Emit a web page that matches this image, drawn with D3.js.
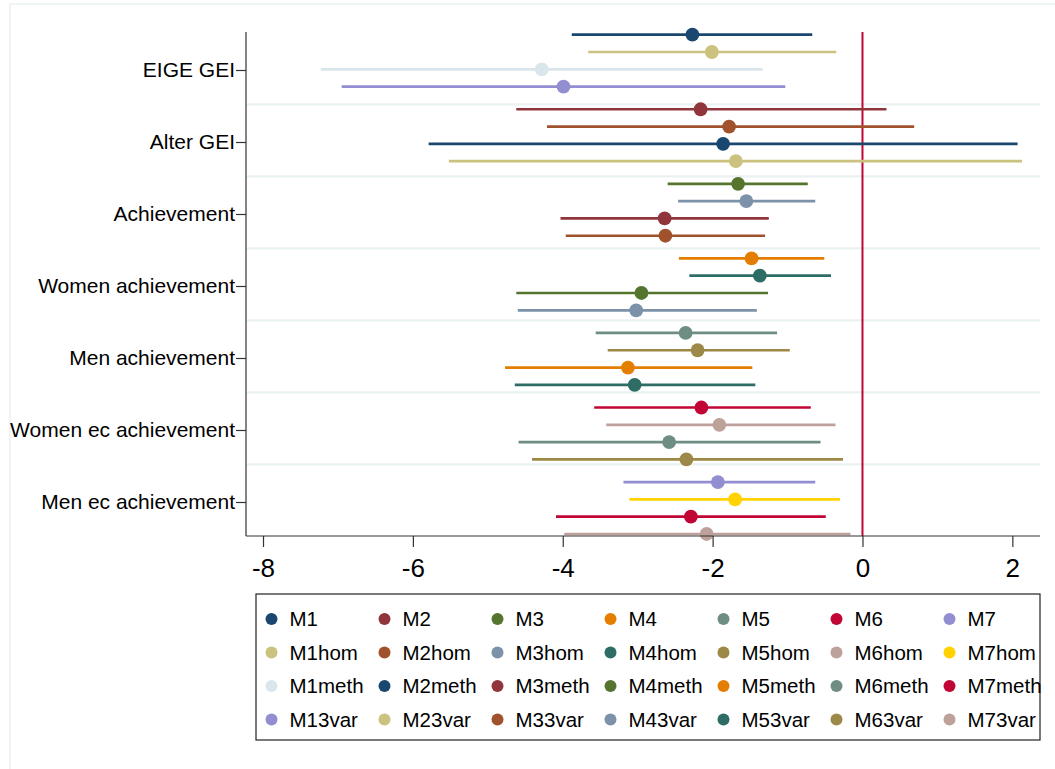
<!DOCTYPE html>
<html>
<head>
<meta charset="utf-8">
<script src="https://cdn.jsdelivr.net/npm/d3@7"></script>
<style>
  html, body { margin: 0; padding: 0; background: #fff; }
  svg { display: block; font-family: 'Liberation Sans', Arial, sans-serif; }
</style>
</head>
<body>
<div id="chart"></div>
<script>
// Coefficient plot: 7 outcomes x 4 model variants, 95% CIs

const groups = ['EIGE GEI', 'Alter GEI', 'Achievement', 'Women achievement',
  'Men achievement', 'Women ec achievement', 'Men ec achievement'];

// legend order (row by row)
const seriesNames = [
  'M1', 'M2', 'M3', 'M4', 'M5', 'M6', 'M7',
  'M1hom', 'M2hom', 'M3hom', 'M4hom', 'M5hom', 'M6hom', 'M7hom',
  'M1meth', 'M2meth', 'M3meth', 'M4meth', 'M5meth', 'M6meth', 'M7meth',
  'M13var', 'M23var', 'M33var', 'M43var', 'M53var', 'M63var', 'M73var'
];

// one value per outcome group
const coefBase = [-2.27, -2.16, -1.66, -1.48, -2.36, -2.15, -1.93];
const lowBase  = [-3.88, -4.62, -2.60, -2.45, -3.56, -3.58, -3.19];
const highBase = [-0.67, 0.32, -0.73, -0.51, -1.14, -0.69, -0.63];

const coefHom = [-2.01, -1.78, -1.55, -1.37, -2.20, -1.91, -1.70];
const lowHom  = [-3.66, -4.21, -2.46, -2.31, -3.40, -3.42, -3.11];
const highHom = [-0.35, 0.69, -0.63, -0.42, -0.97, -0.36, -0.30];

const coefMeth = [-4.28, -1.86, -2.64, -2.95, -3.13, -2.58, -2.29];
const lowMeth  = [-7.23, -5.79, -4.03, -4.62, -4.77, -4.59, -4.09];
const highMeth = [-1.33, 2.07, -1.25, -1.26, -1.47, -0.56, -0.49];

const coefVar = [-3.99, -1.69, -2.63, -3.02, -3.04, -2.35, -2.08];
const lowVar  = [-6.95, -5.52, -3.96, -4.60, -4.64, -4.41, -3.98];
const highVar = [-1.03, 2.13, -1.30, -1.41, -1.43, -0.26, -0.16];

const xTicks = [-8, -6, -4, -2, 0, 2];

// Stata s2color
const palette = ['#1a476f', '#90353b', '#55752f', '#e37e00', '#6e8e84', '#c10534', '#938dd2',
  '#cac27e', '#a0522d', '#7b92a8', '#2d6d66', '#9c8847', '#bfa19c', '#ffd200', '#d9e6eb'];

(function() {
  const width = 1055;
  const height = 769;
  const plot = { left: 246, right: 1040, top: 32, bottom: 536 };
  const font = "'Liberation Sans', Arial, sans-serif";

  const variants = [
    { coef: coefBase, low: lowBase, high: highBase },
    { coef: coefHom, low: lowHom, high: highHom },
    { coef: coefMeth, low: lowMeth, high: highMeth },
    { coef: coefVar, low: lowVar, high: highVar }
  ];

  // flatten into rows: group g, variant k -> series index k*7+g
  const rows = [];
  groups.forEach((name, g) => {
    variants.forEach((v, k) => {
      rows.push({ g, k, series: k * 7 + g, coef: v.coef[g], low: v.low[g], high: v.high[g] });
    });
  });

  const svg = d3.select('#chart').append('svg')
    .attr('width', width)
    .attr('height', height);

  // faint graph region outline
  svg.append('rect')
    .attr('x', 10).attr('y', 4)
    .attr('width', width + 20).attr('height', height + 20)
    .attr('fill', 'none')
    .attr('stroke', '#eaf1f3')
    .attr('stroke-width', 1.5);

  const x = d3.scaleLinear()
    .domain([-8.227, 2.369])
    .range([plot.left, plot.right]);

  // category axis: group centres
  const yCat = d3.scaleLinear()
    .domain([0, 7])
    .range([34, 538]);

  // coefficient rows, small extra gap between groups
  const groupGap = 0.31;
  const yRow = d3.scaleLinear()
    .domain([0, 1])
    .range([34.7, 52.0]);
  const rowY = d => yRow(d.g * 4 + d.k + d.g * groupGap);

  // horizontal gridlines between groups
  svg.append('g')
    .selectAll('line')
    .data(d3.range(1, groups.length))
    .enter().append('line')
    .attr('x1', plot.left + 1)
    .attr('x2', plot.right)
    .attr('y1', d => yCat(d) - 1.7)
    .attr('y2', d => yCat(d) - 1.7)
    .attr('stroke', '#eaf1f3')
    .attr('stroke-width', 2.2);

  // zero reference line
  svg.append('line')
    .attr('x1', x(0)).attr('x2', x(0))
    .attr('y1', plot.top).attr('y2', plot.bottom)
    .attr('stroke', '#c10534')
    .attr('stroke-width', 2);

  // confidence intervals
  svg.append('g')
    .selectAll('line')
    .data(rows)
    .enter().append('line')
    .attr('x1', d => x(d.low))
    .attr('x2', d => x(d.high))
    .attr('y1', rowY)
    .attr('y2', rowY)
    .attr('stroke', d => palette[d.series % palette.length])
    .attr('stroke-width', 2.7);

  // point estimates
  svg.append('g')
    .selectAll('circle')
    .data(rows)
    .enter().append('circle')
    .attr('cx', d => x(d.coef))
    .attr('cy', rowY)
    .attr('r', 6.9)
    .attr('fill', d => palette[d.series % palette.length]);

  // x axis
  const xAxis = svg.append('g')
    .attr('transform', `translate(0,${plot.bottom})`)
    .call(d3.axisBottom(x).tickValues(xTicks).tickSize(11).tickPadding(12).tickFormat(d3.format('d')));
  xAxis.select('.domain').attr('stroke', '#333').attr('stroke-width', 1.2)
    .attr('d', `M${plot.left},0H${plot.right}`);
  xAxis.selectAll('.tick line').attr('stroke', '#333').attr('stroke-width', 1.2);
  xAxis.selectAll('.tick text')
    .attr('fill', '#000')
    .style('font-family', font)
    .style('font-size', '26px')
    .text(d => d < 0 ? '-' + Math.abs(d) : d);

  // y axis
  const yAxis = svg.append('g')
    .attr('transform', `translate(${plot.left},0)`)
    .call(d3.axisLeft(yCat)
      .tickValues(groups.map((_, i) => i + 0.5))
      .tickFormat((d, i) => groups[i])
      .tickSize(10).tickPadding(1));
  yAxis.select('.domain').attr('stroke', '#333').attr('stroke-width', 1.2)
    .attr('d', `M0,${plot.top}V${plot.bottom}`);
  yAxis.selectAll('.tick line').attr('stroke', '#333').attr('stroke-width', 1.2);
  yAxis.selectAll('.tick text')
    .attr('fill', '#000')
    .style('font-family', font)
    .style('font-size', '21px');

  // legend
  const legend = { x: 256, y: 594, w: 784, h: 146, cols: 7, colW: 113, rowH: 33.5, first: 271.5, firstY: 619 };
  svg.append('rect')
    .attr('x', legend.x).attr('y', legend.y)
    .attr('width', legend.w).attr('height', legend.h)
    .attr('fill', '#fff')
    .attr('stroke', '#222')
    .attr('stroke-width', 1.2);

  const item = svg.append('g')
    .selectAll('g')
    .data(seriesNames)
    .enter().append('g')
    .attr('transform', (d, i) => `translate(${legend.first + (i % legend.cols) * legend.colW},${legend.firstY + Math.floor(i / legend.cols) * legend.rowH})`);

  item.append('circle')
    .attr('r', 6)
    .attr('fill', (d, i) => palette[i % palette.length]);

  item.append('text')
    .attr('x', 18)
    .attr('dy', '0.36em')
    .style('font-family', font)
    .style('font-size', '20.5px')
    .attr('fill', '#000')
    .text(d => d);
})();
</script>
</body>
</html>
